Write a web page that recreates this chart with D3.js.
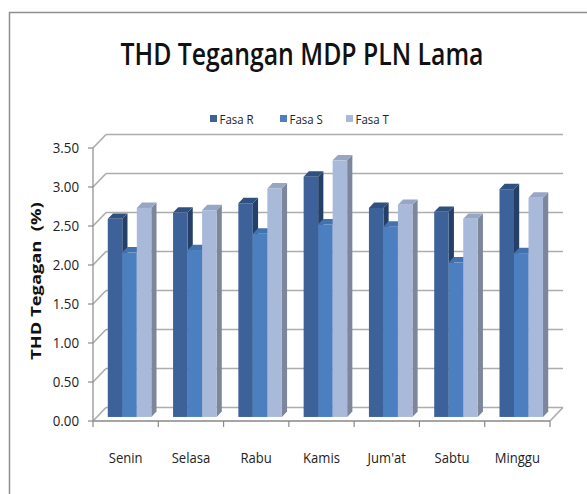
<!DOCTYPE html>
<html>
<head>
<meta charset="utf-8">
<script src="https://cdn.jsdelivr.net/npm/d3@7"></script>
<style>
  body{margin:0;background:#fff;}
  text{font-family:"Open Sans","Liberation Sans",sans-serif;}
</style>
</head>
<body>
<div id="chart"></div>
<script>
const days=["Senin","Selasa","Rabu","Kamis","Jum'at","Sabtu","Minggu"];
const fasaR=[2.54,2.62,2.74,3.08,2.68,2.63,2.92];
const fasaS=[2.11,2.14,2.35,2.47,2.44,1.98,2.10];
const fasaT=[2.68,2.65,2.93,3.29,2.72,2.54,2.81];
const seriesNames=["Fasa R","Fasa S","Fasa T"];
const yTicks=[0,0.5,1,1.5,2,2.5,3,3.5];

const w=587, h=494;
const colors=[
  {front:"#3d6299",side:"#263f66",top:"#30507e"},
  {front:"#4b7fc0",side:"#35608f",top:"#4472ad"},
  {front:"#a9b9da",side:"#7c879c",top:"#97a6c4"}
];
const depth={dx:13,dy:-13.5};
const barD0=0.3, barD1=0.7;

// squeeze text a bit, calibri is narrower than what we have
function condense(sel,f){
  sel.each(function(){
    const len=this.getComputedTextLength();
    d3.select(this).attr("textLength",len*f).attr("lengthAdjust","spacingAndGlyphs");
  });
  return sel;
}

const svg=d3.select("#chart").append("svg").attr("width",w).attr("height",h);
svg.append("rect").attr("width",w).attr("height",h).attr("fill","#fff");
svg.append("rect").attr("x",9.5).attr("y",12.5).attr("width",620).attr("height",520)
   .attr("fill","none").attr("stroke","#8e8e8e").attr("stroke-width",1.5);

const y=d3.scaleLinear().domain([0,3.5]).range([421,148]);
const x=d3.scaleBand().domain(days).range([93,550]);
const sub=d3.scaleBand().domain(seriesNames).range([0,x.bandwidth()]).paddingOuter(0.75).paddingInner(0);

const grid=svg.append("g").attr("stroke","#adadad").attr("stroke-width",1.7).attr("fill","none");
// back wall gridlines + left wall diagonals
yTicks.forEach(v=>{
  grid.append("line").attr("x1",93+depth.dx).attr("x2",550+depth.dx)
      .attr("y1",y(v)+depth.dy).attr("y2",y(v)+depth.dy);
  grid.append("line").attr("x1",93).attr("x2",93+depth.dx)
      .attr("y1",y(v)).attr("y2",y(v)+depth.dy);
});
// floor
grid.append("path").attr("d",`M93,${y(0)}L550,${y(0)}L${550+depth.dx},${y(0)+depth.dy}`);

// axes
const axisC="#8a8a8a";
svg.append("line").attr("x1",93).attr("x2",93).attr("y1",y(3.5)).attr("y2",y(0))
   .attr("stroke",axisC).attr("stroke-width",1.2);
svg.append("line").attr("x1",93).attr("x2",550).attr("y1",y(0)).attr("y2",y(0))
   .attr("stroke",axisC).attr("stroke-width",1.2);
yTicks.forEach(v=>{
  svg.append("line").attr("x1",88).attr("x2",93).attr("y1",y(v)).attr("y2",y(v))
     .attr("stroke",axisC).attr("stroke-width",1.2);
  condense(svg.append("text").attr("x",79).attr("y",y(v)+5).attr("text-anchor","end")
     .style("font-size","14px").attr("fill","#222").text(v.toFixed(2)),0.95);
});
days.concat([null]).forEach((d,i)=>{
  const xx=d?x(d):550;
  svg.append("line").attr("x1",xx).attr("x2",xx).attr("y1",y(0)).attr("y2",y(0)+6)
     .attr("stroke",axisC).attr("stroke-width",1.2);
});
days.forEach(d=>{
  condense(svg.append("text").attr("x",x(d)+x.bandwidth()/2).attr("y",463).attr("text-anchor","middle")
     .style("font-size","14.5px").attr("fill","#222").text(d),0.9);
});

// bars
const series=[fasaR,fasaS,fasaT];
const ox=barD0*depth.dx, oy=barD0*depth.dy;
const bx=(barD1-barD0)*depth.dx, by=(barD1-barD0)*depth.dy;
const bars=svg.append("g");
days.forEach((d,i)=>{
  series.forEach((s,k)=>{
    const x0=x(d)+sub(seriesNames[k])+ox;
    const x1=x0+sub.bandwidth();
    const yb=y(0)+oy, yt=y(s[i])+oy;
    const c=colors[k];
    bars.append("path").attr("d",`M${x1},${yt}L${x1+bx},${yt+by}L${x1+bx},${yb+by}L${x1},${yb}Z`).attr("fill",c.side);
    bars.append("path").attr("d",`M${x0},${yt}L${x1},${yt}L${x1+bx},${yt+by}L${x0+bx},${yt+by}Z`).attr("fill",c.top);
    bars.append("rect").attr("x",x0).attr("y",yt).attr("width",x1-x0).attr("height",yb-yt).attr("fill",c.front);
  });
});

// title
condense(svg.append("text").attr("x",302).attr("y",65).attr("text-anchor","middle")
   .style("font-size","31px").style("font-weight","600").attr("fill","#111")
   .text("THD Tegangan MDP PLN Lama"),0.8);

// legend
const legX=[210,280,346];
seriesNames.forEach((n,k)=>{
  svg.append("rect").attr("x",legX[k]).attr("y",115).attr("width",7).attr("height",7).attr("fill",colors[k].front);
  condense(svg.append("text").attr("x",legX[k]+9.5).attr("y",124).style("font-size","13px").attr("fill","#222").text(n),0.88);
});

// y axis title
condense(svg.append("text").attr("transform","translate(41,281) rotate(-90)").attr("text-anchor","middle")
   .style("font-size","15px").style("font-weight","bold").style("white-space","pre").attr("fill","#111")
   .text("THD Tegagan  (%)"),1.22);
</script>
</body>
</html>
